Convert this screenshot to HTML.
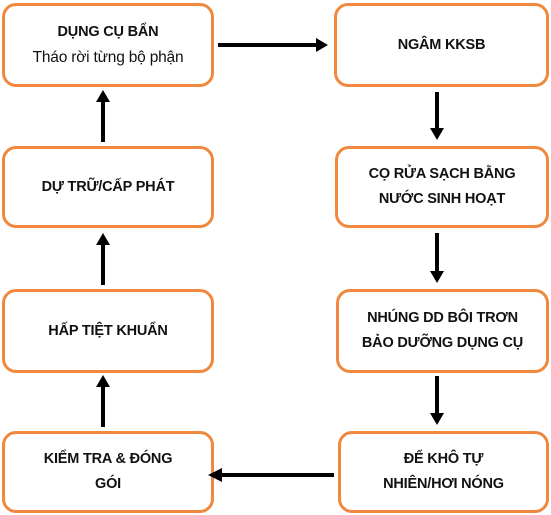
<!DOCTYPE html>
<html><head><meta charset="utf-8"><style>
body{margin:0;width:551px;height:515px;background:#fff;position:relative;overflow:hidden;font-family:"Liberation Sans","DejaVu Sans",sans-serif;}
.b{position:absolute;box-sizing:border-box;border:3px solid #f0883e;border-radius:14px;display:flex;flex-direction:column;align-items:center;justify-content:center;text-align:center;font-weight:bold;font-size:14.5px;line-height:25px;color:#111;letter-spacing:-0.2px;}
.n{font-weight:normal;font-size:15.5px;}
</style></head><body>
<div class="b" style="left:2px;top:3px;width:212px;height:84px">DỤNG CỤ BẨN<span class="n">Tháo rời từng bộ phận</span></div>
<div class="b" style="left:2px;top:146px;width:212px;height:82px">DỰ TRỮ/CẤP PHÁT</div>
<div class="b" style="left:2px;top:289px;width:212px;height:84px">HẤP TIỆT KHUẨN</div>
<div class="b" style="left:2px;top:431px;width:212px;height:82px">KIỂM TRA &amp; ĐÓNG<br>GÓI</div>
<div class="b" style="left:334px;top:3px;width:215px;height:84px">NGÂM KKSB</div>
<div class="b" style="left:335px;top:146px;width:214px;height:82px">CỌ RỬA SẠCH BẰNG<br>NƯỚC SINH HOẠT</div>
<div class="b" style="left:336px;top:289px;width:213px;height:84px">NHÚNG DD BÔI TRƠN<br>BẢO DƯỠNG DỤNG CỤ</div>
<div class="b" style="left:338px;top:431px;width:211px;height:82px">ĐỂ KHÔ TỰ<br>NHIÊN/HƠI NÓNG</div>
<svg width="551" height="515" style="position:absolute;left:0;top:0">
<g stroke="#000" stroke-width="4">
<line x1="218" y1="45" x2="318" y2="45"/>
<line x1="334" y1="475" x2="222" y2="475"/>
<line x1="103" y1="142" x2="103" y2="100"/>
<line x1="103" y1="285" x2="103" y2="243"/>
<line x1="103" y1="427" x2="103" y2="385"/>
<line x1="437" y1="92" x2="437" y2="130"/>
<line x1="437" y1="233" x2="437" y2="272"/>
<line x1="437" y1="376" x2="437" y2="415"/>
</g>
<g fill="#000">
<polygon points="328,45 316,38 316,52"/>
<polygon points="208,475 222,468 222,482"/>
<polygon points="103,90 96,102 110,102"/>
<polygon points="103,233 96,245 110,245"/>
<polygon points="103,375 96,387 110,387"/>
<polygon points="437,140 430,128 444,128"/>
<polygon points="437,283 430,271 444,271"/>
<polygon points="437,425 430,413 444,413"/>
</g>
</svg>
</body></html>
